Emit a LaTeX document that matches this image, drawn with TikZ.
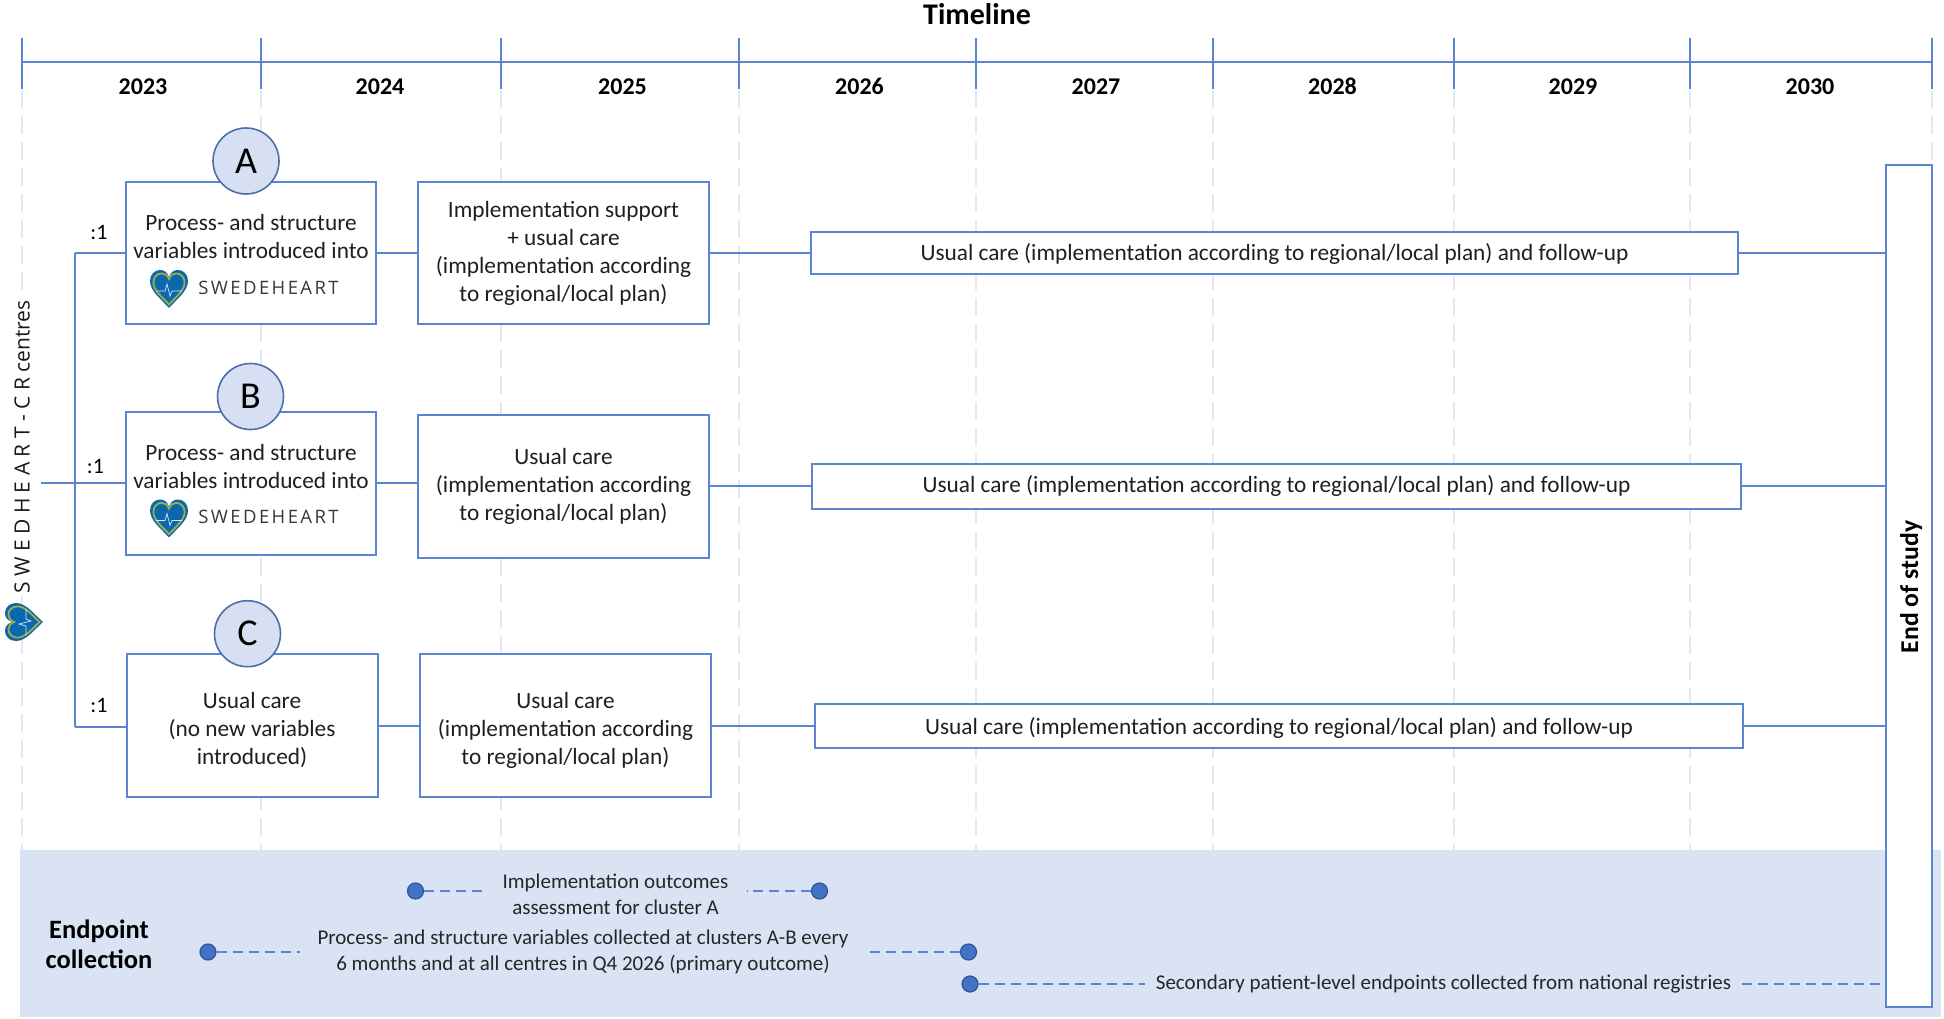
\documentclass[tikz,border=0pt]{standalone}
\usepackage{fontspec}
\setmainfont{Carlito}
\newfontfamily\logofont[LetterSpace=13]{Open Sans}
\newfontfamily\centrefont{Open Sans}
\definecolor{lineblue}{HTML}{5B85D2}
\definecolor{griddash}{HTML}{E2E9F6}
\definecolor{bandblue}{HTML}{D9E3F3}
\definecolor{circleblue}{HTML}{D6E0F2}
\definecolor{dotblue}{HTML}{4472C4}
\definecolor{dotedge}{HTML}{2F5597}
\definecolor{heartblue}{HTML}{0A69AE}
\definecolor{heartrim}{HTML}{A3AE45}
\tikzset{
    carebox/.style={draw=lineblue, fill=white, line width=2pt, align=center, inner sep=0pt, text=black!88, font=\fontsize{23.3}{28}\selectfont},
    clusterdot/.style={circle, draw=dotedge!85, fill=circleblue, minimum size=66pt, inner sep=0pt, line width=1.6pt, font=\fontsize{38}{38}\selectfont},
    link/.style={draw=lineblue, line width=2pt},
    griddashes/.style={griddash, line width=1.4pt, dash pattern=on 18pt off 8pt},
    dashlink/.style={draw=lineblue, line width=1.8pt, dash pattern=on 10pt off 6pt},
    markdot/.style={circle, draw=dotedge, fill=dotblue, minimum size=16pt, inner sep=0pt, line width=1.2pt},
    yearlabel/.style={font=\fontsize{24}{24}\selectfont\bfseries},
    ratiolabel/.style={font=\fontsize{22}{22}\selectfont},
    endpointtext/.style={align=center, font=\fontsize{21}{26}\selectfont, text=black!85},
    logotext/.style={font=\fontsize{18.5}{19}\logofont\selectfont, text=black!78},
    heartshape/.style={insert path={(0,19) .. controls (-8,10) and (-19,2) .. (-19,-8) .. controls (-19,-15) and (-14,-19) .. (-9,-19) .. controls (-5,-19) and (-2,-17) .. (0,-12) .. controls (2,-17) and (5,-19) .. (9,-19) .. controls (14,-19) and (19,-15) .. (19,-8) .. controls (19,2) and (8,10) .. (0,19) -- cycle}},
    swedeheart/.pic={
        \path[heartshape, fill=heartblue];
        \path[scale=0.82, heartshape, fill=heartblue, draw=heartrim, line width=1.7pt];
        \draw[white!85!heartblue, line width=0.7pt] (-13,2) -- (-4,2) -- (-2,-5) -- (1,7) -- (3,2) -- (13,2);
    }
}
\begin{document}
\begin{tikzpicture}[x=1pt, y=-1pt]
    \useasboundingbox (0,0) rectangle (1944,1019);

    % Year grid
    \foreach \x in {22,261,501,739,976,1213,1454,1690} {
        \draw[griddashes] (\x,90) -- (\x,850);
    }
    \draw[griddashes] (1932,90) -- (1932,165);

    % Timeline axis
    \node[font=\fontsize{30}{30}\selectfont\bfseries] (timeline) at (977,14) {Timeline};
    \draw[link] (22,62.5) -- (1932,62.5);
    \foreach \x in {22,261,501,739,976,1213,1454,1690,1932} {
        \draw[link] (\x,38) -- (\x,89);
    }
    \foreach \x/\year in {143/2023, 380/2024, 622.5/2025, 859.5/2026, 1096/2027, 1332.5/2028, 1573/2029, 1810/2030} {
        \node[yearlabel] (year\year) at (\x,86.5) {\year};
    }

    % Endpoint band
    \fill[bandblue] (20,850) rectangle (1941,1017);

    % Centres label
    \node[rotate=90, fill=white, inner sep=1pt, font=\fontsize{21}{21}\centrefont\selectfont, text=black!90] (centres) at (22,447) {S W E D H E A R T - C R centres};
    \pic[rotate=90] (centreheart) at (24,622) {swedeheart};

    % Cluster A
    \node[carebox, minimum width=250pt, minimum height=142pt] (boxaone) at (251,253) {Process- and structure\\variables introduced into\\[5pt] \mbox{}};
    \node[carebox, minimum width=291pt, minimum height=142pt] (boxatwo) at (563.5,253) {Implementation support\\+ usual care\\(implementation according\\to regional/local plan)};
    \node[carebox, minimum width=927pt, minimum height=42pt] (boxathree) at (1274.5,253) {\rule{0pt}{20pt}Usual care (implementation according to regional/local plan) and follow-up};
    \node[clusterdot] (clustera) at (246,161) {A};
    \pic (hearta) at (169,289) {swedeheart};
    \node[logotext] (logoa) at (268.5,288) {SWEDEHEART};
    \node[ratiolabel] (ratioa) at (99,233) {:1};

    % Cluster B
    \node[carebox, minimum width=250pt, minimum height=143pt] (boxbone) at (251,483) {Process- and structure\\variables introduced into\\[6pt] \mbox{}};
    \node[carebox, minimum width=291pt, minimum height=143pt] (boxbtwo) at (563.5,486) {\raisebox{1.5pt}{Usual care}\\\raisebox{1.5pt}{(implementation according}\\\raisebox{1.5pt}{to regional/local plan)}};
    \node[carebox, minimum width=929pt, minimum height=45pt] (boxbthree) at (1276.5,486) {Usual care (implementation according to regional/local plan) and follow-up};
    \node[clusterdot] (clusterb) at (250.5,396.5) {B};
    \pic (heartb) at (169,518.5) {swedeheart};
    \node[logotext] (logob) at (268.5,517) {SWEDEHEART};
    \node[ratiolabel] (ratiob) at (95.5,467) {:1};

    % Cluster C
    \node[carebox, minimum width=251pt, minimum height=143pt] (boxcone) at (252,725.5) {\rule{0pt}{26pt}Usual care\\(no new variables\\introduced)};
    \node[carebox, minimum width=291pt, minimum height=143pt] (boxctwo) at (565.5,725.5) {\rule{0pt}{26pt}Usual care\\(implementation according\\to regional/local plan)};
    \node[carebox, minimum width=928pt, minimum height=44pt] (boxcthree) at (1279,726) {\rule{0pt}{20pt}Usual care (implementation according to regional/local plan) and follow-up};
    \node[clusterdot] (clusterc) at (247.5,633.7) {C};
    \node[ratiolabel] (ratioc) at (99,706) {:1};

    % End of study
    \node[carebox, minimum width=46pt, minimum height=842pt] (endbox) at (1909,586) {};
    \node[rotate=90, font=\fontsize{25.7}{26}\selectfont\bfseries] (endtext) at (1911,587) {End of study};

    % Allocation lines
    \coordinate (trunktop) at (75,253);
    \coordinate (trunkbot) at (75,726.5);
    \coordinate (entry) at (41,483);
    \draw[link] (trunktop) -- (trunkbot);
    \draw[link] (trunktop) -- (boxaone.west);
    \draw[link] (entry) -- (boxbone.west);
    \draw[link] (trunkbot) -- (trunkbot -| boxcone.west);

    % Row connectors
    \draw[link] (boxaone.east) -- (boxatwo.west);
    \draw[link] (boxatwo.east) -- (boxathree.west);
    \draw[link] (boxathree.east) -- (boxathree.east -| endbox.west);
    \draw[link] (boxbone.east) -- (boxbone.east -| boxbtwo.west);
    \draw[link] (boxbtwo.east) -- (boxbthree.west);
    \draw[link] (boxbthree.east) -- (boxbthree.east -| endbox.west);
    \draw[link] (boxcone.east) -- (boxctwo.west);
    \draw[link] (boxctwo.east) -- (boxctwo.east -| boxcthree.west);
    \draw[link] (boxcthree.east) -- (boxcthree.east -| endbox.west);

    % Endpoint collection
    \node[align=center, font=\fontsize{26.5}{30}\selectfont\bfseries] (endpoint) at (99,944) {Endpoint\\collection};
    \node[endpointtext, inner xsep=18pt] (implement) at (615.5,894) {Implementation outcomes\\assessment for cluster A};
    \node[endpointtext, inner xsep=17pt] (process) at (583,952) {Process- and structure variables collected at clusters A-B every\\6 months and at all centres in Q4 2026 (primary outcome)};
    \node[endpointtext, inner xsep=11pt] (secondary) at (1443.5,984) {Secondary patient-level endpoints collected from national registries};
    \node[markdot] (implstart) at (415.5,891) {};
    \node[markdot] (implend) at (819.5,891) {};
    \node[markdot] (procstart) at (208,952) {};
    \node[markdot] (procend) at (968.5,952) {};
    \node[markdot] (secstart) at (970,984) {};
    \draw[dashlink] (implstart) -- (implstart -| implement.west);
    \draw[dashlink] (implend) -- (implend -| implement.east);
    \draw[dashlink] (procstart) -- (procstart -| process.west);
    \draw[dashlink] (procend) -- (procend -| process.east);
    \draw[dashlink] (secstart) -- (secondary.west);
    \draw[dashlink] (secondary.east) -- (secondary.east -| endbox.west);
\end{tikzpicture}
\end{document}
